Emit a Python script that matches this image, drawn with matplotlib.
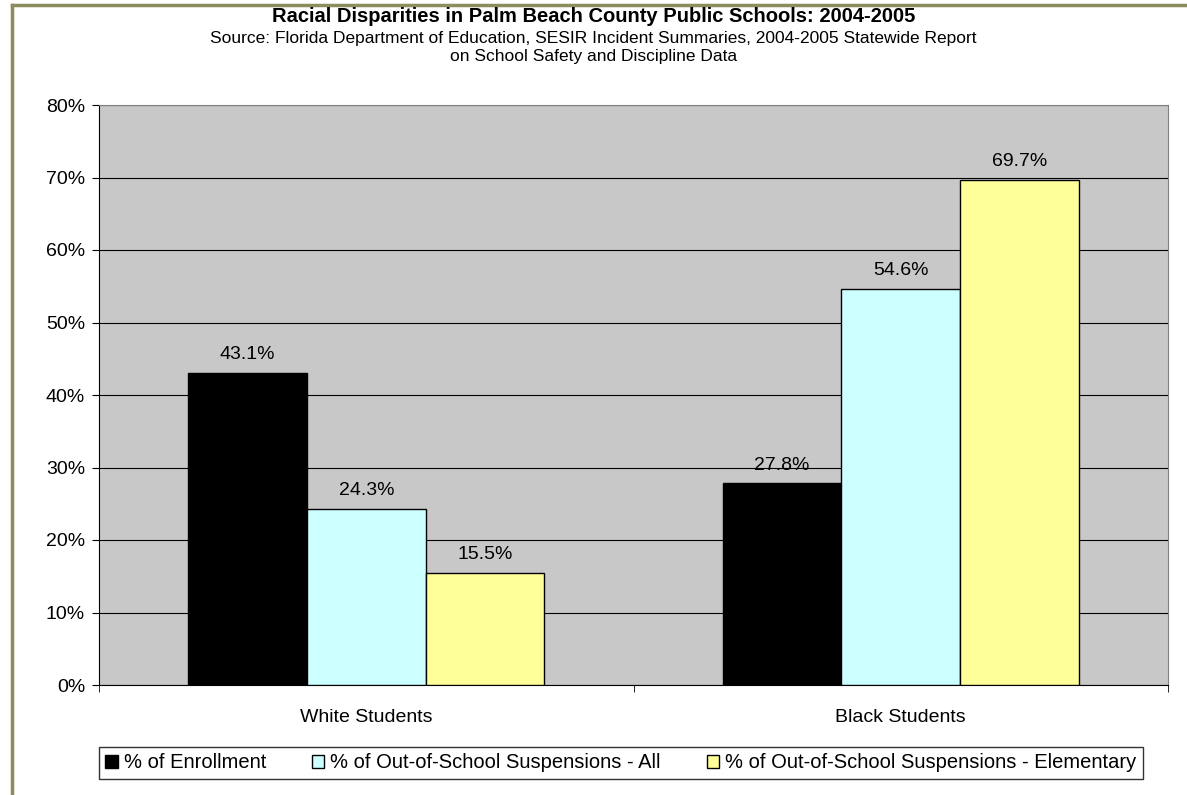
import matplotlib.pyplot as plt
import numpy as np
from matplotlib.lines import Line2D

plt.rcParams['font.family'] = ['Liberation Sans', 'DejaVu Sans']

# data
groups = ['White Students', 'Black Students']
series = ['% of Enrollment',
          '% of Out-of-School Suspensions - All',
          '% of Out-of-School Suspensions - Elementary']
enrollment = [43.1, 27.8]
oss_all = [24.3, 54.6]
oss_elem = [15.5, 69.7]
colors = ['#000000', '#CCFFFF', '#FFFF99']

fig = plt.figure(figsize=(11.87, 7.95), dpi=100)
ax = fig.add_axes([99 / 1187, 110 / 795, (1168 - 99) / 1187, 580 / 795])
ax.set_facecolor('#C8C8C8')

x = np.arange(len(groups))
w = 1 / 4.5
for i, (vals, c, name) in enumerate(zip([enrollment, oss_all, oss_elem], colors, series)):
    bars = ax.bar(x + (i - 1) * w, vals, w, color=c, edgecolor='black', linewidth=1,
                  label=name, zorder=3)
    for b, v in zip(bars, vals):
        ax.annotate(f'{v:.1f}%', (b.get_x() + b.get_width() / 2, v),
                    xytext=(0, 7), textcoords='offset points',
                    ha='center', va='bottom', fontsize=14)

ax.set_xlim(-0.5, 1.5)
ax.set_ylim(0, 80)
ax.set_yticks(range(0, 81, 10))
ax.set_yticklabels([f'{t}%' for t in range(0, 81, 10)], fontsize=14)
ax.yaxis.grid(True, color='black', linewidth=0.8, zorder=0)
ax.set_axisbelow(True)

ax.set_xticks(x)
ax.set_xticklabels(groups, fontsize=14)
ax.set_xticks([-0.5, 0.5, 1.5], minor=True)
ax.tick_params(axis='x', which='major', length=0, pad=17)
ax.tick_params(axis='x', which='minor', length=5, direction='out')
ax.tick_params(axis='y', length=5, direction='out', pad=5)

ax.spines['left'].set_color('black')
ax.spines['bottom'].set_color('black')
ax.spines['top'].set_color('#808080')
ax.spines['right'].set_color('#808080')

fig.text(0.5, 1 - 17 / 795, 'Racial Disparities in Palm Beach County Public Schools: 2004-2005',
         ha='center', va='center', fontsize=14.5, fontweight='bold')
fig.text(0.5, 1 - 38 / 795,
         'Source: Florida Department of Education, SESIR Incident Summaries, 2004-2005 Statewide Report',
         ha='center', va='center', fontsize=12.5)
fig.text(0.5, 1 - 57 / 795, 'on School Safety and Discipline Data',
         ha='center', va='center', fontsize=12.5)

leg = fig.legend(loc='center', bbox_to_anchor=(621 / 1187, 1 - 763 / 795), ncol=3,
                 fontsize=14.5, frameon=True, fancybox=False, edgecolor='black',
                 handlelength=0.6, handleheight=0.6, handletextpad=0.3,
                 columnspacing=2.3, borderpad=0.3)
leg.get_frame().set_linewidth(1)

# outer border
fig.add_artist(Line2D([12 / 1187, 12 / 1187], [0, 1 - 5 / 795], color='#8C8C5C', linewidth=2.5))
fig.add_artist(Line2D([12 / 1187, 1], [1 - 5 / 795, 1 - 5 / 795], color='#8C8C5C', linewidth=2.5))

fig.savefig('out.png', dpi=100)
